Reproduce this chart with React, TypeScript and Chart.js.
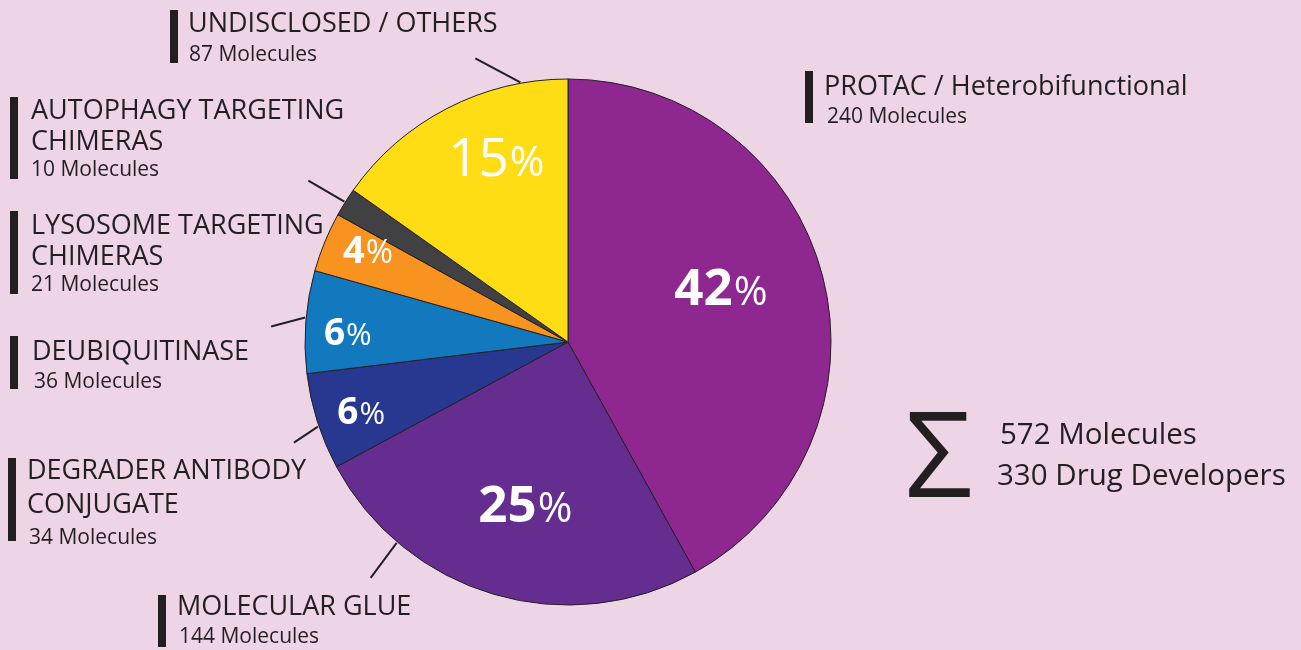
import React, { useEffect, useRef } from "react";
import { Chart, registerables } from "chart.js";

Chart.register(...registerables);

// ---------- data ----------
const categories = [
  "PROTAC / Heterobifunctional",
  "MOLECULAR GLUE",
  "DEGRADER ANTIBODY CONJUGATE",
  "DEUBIQUITINASE",
  "LYSOSOME TARGETING CHIMERAS",
  "AUTOPHAGY TARGETING CHIMERAS",
  "UNDISCLOSED / OTHERS",
];
const molecules = [240, 144, 34, 36, 21, 10, 87];
const totalMolecules = 572;
const drugDevelopers = 330;

// label text lines (wrapped as in the reference)
const titleLines = [
  ["PROTAC / Heterobifunctional"],
  ["MOLECULAR GLUE"],
  ["DEGRADER ANTIBODY", "CONJUGATE"],
  ["DEUBIQUITINASE"],
  ["LYSOSOME TARGETING", "CHIMERAS"],
  ["AUTOPHAGY TARGETING", "CHIMERAS"],
  ["UNDISCLOSED / OTHERS"],
];

// ---------- styles ----------
const sliceColors = ["#8E278F", "#662D91", "#283891", "#1279BE", "#F7931E", "#414042", "#FFDD15"];
const BG = "#EDD5E6";
const INK = "#231F20";
const FONT = "'Open Sans', 'Noto Sans', sans-serif";

// external label layout
const labelLayout = [
  { barX: 805, barTop: 71, barBottom: 123, textX: 824, baselines: [95], subX: 827, subBase: 123 },
  { barX: 158, barTop: 595, barBottom: 647, textX: 177, baselines: [615], subX: 179, subBase: 643 },
  { barX: 8, barTop: 458, barBottom: 541, textX: 27, baselines: [479, 513], subX: 29, subBase: 544 },
  { barX: 10, barTop: 336, barBottom: 389, textX: 32, baselines: [360], subX: 34, subBase: 388 },
  { barX: 10, barTop: 211, barBottom: 294, textX: 31, baselines: [234, 265], subX: 31, subBase: 291 },
  { barX: 10, barTop: 97, barBottom: 179, textX: 31, baselines: [119, 150], subX: 31, subBase: 176 },
  { barX: 170, barTop: 10, barBottom: 63, textX: 188, baselines: [32], subX: 189, subBase: 61 },
];

// percentage label placement inside slices (angular fraction, radial fraction, sizes)
const pctLayout = [
  { af: 0.465, rf: 0.616, size: 51, pctSize: 41, weight: 700 },
  { af: 0.484, rf: 0.637, size: 51, pctSize: 42, weight: 700 },
  { af: 0.47, rf: 0.83, size: 37, pctSize: 31, weight: 700 },
  { af: 0.42, rf: 0.84, size: 37, pctSize: 31, weight: 700 },
  { af: 0.69, rf: 0.84, size: 38, pctSize: 33, weight: 700 },
  null,
  { af: 0.61, rf: 0.754, size: 53, pctSize: 42, weight: 500 },
];

// leader lines: angular fraction of slice where line touches, and outward vector
const leaderLayout = [
  null,
  { af: 0.766, dx: -26, dy: 35 },
  { af: 0.45, dx: -24, dy: 16 },
  { af: 0.54, dx: -34, dy: 9 },
  null,
  { af: 0.5, dx: -36, dy: -21 },
  { af: 0.81, dx: -45, dy: -24 },
];

const labelsPlugin = {
  id: "customLabels",
  afterDatasetsDraw(chart: any) {
    const ctx = chart.ctx as CanvasRenderingContext2D;
    const meta = chart.getDatasetMeta(0);
    const total = molecules.reduce((a, b) => a + b, 0);
    ctx.save();
    meta.data.forEach((arc: any, i: number) => {
      const { x, y, startAngle, endAngle, outerRadius } = arc.getProps(
        ["x", "y", "startAngle", "endAngle", "outerRadius"],
        true
      );
      // percentage
      const p = pctLayout[i];
      if (p) {
        const a = startAngle + p.af * (endAngle - startAngle);
        const cx = x + Math.cos(a) * outerRadius * p.rf;
        const cy = y + Math.sin(a) * outerRadius * p.rf;
        const num = String(Math.round((molecules[i] / total) * 100));
        ctx.font = `${p.weight} ${p.size}px ${FONT}`;
        const w1 = ctx.measureText(num).width;
        ctx.font = `400 ${p.pctSize}px ${FONT}`;
        const w2 = ctx.measureText("%").width;
        const left = cx - (w1 + w2) / 2;
        const base = cy + (p.size * 0.714) / 2;
        ctx.fillStyle = "#FFFFFF";
        ctx.textAlign = "left";
        ctx.textBaseline = "alphabetic";
        ctx.font = `${p.weight} ${p.size}px ${FONT}`;
        ctx.fillText(num, left, base);
        ctx.font = `400 ${p.pctSize}px ${FONT}`;
        ctx.fillText("%", left + w1 + 1, base);
      }
      // leader line
      const l = leaderLayout[i];
      if (l) {
        const a = startAngle + l.af * (endAngle - startAngle);
        const sx = x + Math.cos(a) * (outerRadius + 1);
        const sy = y + Math.sin(a) * (outerRadius + 1);
        ctx.strokeStyle = INK;
        ctx.lineWidth = 2;
        ctx.beginPath();
        ctx.moveTo(sx, sy);
        ctx.lineTo(sx + l.dx, sy + l.dy);
        ctx.stroke();
      }
    });
    ctx.restore();
  },
  afterDraw(chart: any) {
    const ctx = chart.ctx as CanvasRenderingContext2D;
    ctx.save();
    ctx.fillStyle = INK;
    ctx.textAlign = "left";
    ctx.textBaseline = "alphabetic";
    labelLayout.forEach((L, i) => {
      ctx.fillRect(L.barX, L.barTop, 8, L.barBottom - L.barTop);
      ctx.font = `400 27px ${FONT}`;
      titleLines[i].forEach((t, k) => ctx.fillText(t, L.textX, L.baselines[k]));
      ctx.font = `400 21px ${FONT}`;
      ctx.fillText(`${molecules[i]} Molecules`, L.subX, L.subBase);
    });
    // totals block
    ctx.font = `400 119px ${FONT}`;
    ctx.fillText("Σ", 905, 497);
    ctx.font = `400 29.5px ${FONT}`;
    ctx.fillText(`${totalMolecules} Molecules`, 1000, 444);
    ctx.fillText(`${drugDevelopers} Drug Developers`, 997, 485);
    ctx.restore();
  },
};

export default function App() {
  const ref = useRef<HTMLCanvasElement | null>(null);
  useEffect(() => {
    document.body.style.margin = "0";
    document.body.style.background = BG;
    const canvas = ref.current!;
    const chart = new Chart(canvas, {
      type: "pie",
      data: {
        labels: categories,
        datasets: [
          {
            data: molecules,
            backgroundColor: sliceColors,
            borderColor: INK,
            borderWidth: 1,
          },
        ],
      },
      options: {
        responsive: false,
        animation: false,
        devicePixelRatio: 1,
        events: [],
        radius: 263,
        layout: { padding: { left: 300, right: 465, top: 75, bottom: 41 } },
        plugins: {
          legend: { display: false },
          tooltip: { enabled: false },
        },
      } as any,
      plugins: [labelsPlugin],
    });
    return () => chart.destroy();
  }, []);
  return (
    <div style={{ width: 1301, height: 650, background: BG, overflow: "hidden" }}>
      <canvas ref={ref} width={1301} height={650} style={{ display: "block" }} />
    </div>
  );
}
